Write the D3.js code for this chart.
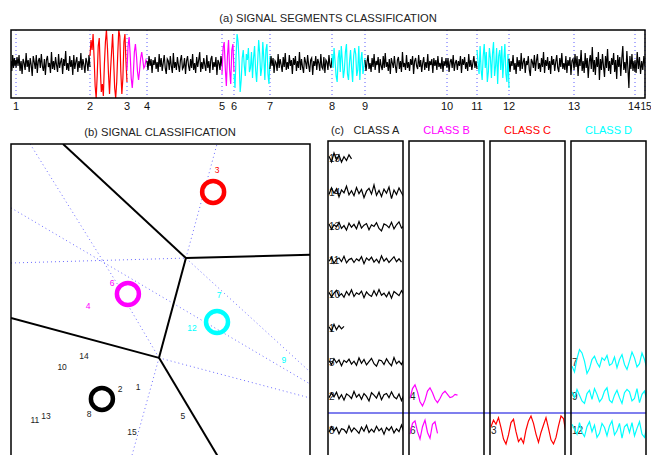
<!DOCTYPE html>
<html>
<head>
<meta charset="utf-8">
<script src="https://cdn.jsdelivr.net/npm/d3@7/dist/d3.min.js"></script>
<style>
  body { margin: 0; background: #fff; }
  svg { display: block; font-family: "Liberation Sans", Arial, Helvetica, sans-serif; }
</style>
</head>
<body>
<script>
// ---- data ----
// segment boundaries (sample index) and their tick labels
const bounds = [0, 5, 79, 116, 136, 211, 223, 259, 321, 354, 436, 466, 498, 563, 624, 634];
const tickLabels = ['1','2','3','4','5','6','7','8','9','10','11','12','13','14','15'];
// class of segment k (segment k ends at tick k)
const segClass = ['A','A','C','B','A','B','D','A','D','A','A','D','A','A','A'];

// signal samples per segment
const s1 = [3,-7,9,-4,6,-2,4];
const s2 = [-4,7,-2,9,-7,3,-10,5,1,-6,11,-3,4,-8,6,-1,-12,8,2,-5,9,-9,3,6,-4,10,-2,-7,5,-11,
  4,8,-3,1,-9,12,-5,3,-6,7,-1,-8,10,-4,2,6,-10,5,-2,13,-6,1,-7,8,-3,4,-11,9,-5,2,7,-8,3,-4,11,-6,5,-1,-9,6,2,-7,9,-3];
const s3 = [8,24,14,30,6,-22,-34,-12,18,26,-4,-28,-20,-32,0,22,34,16,-10,-30,-6,12,30,4,-24,-34,-18,10,34,28,-8,-30,-14,22,30,2,-18];
const s4 = [-6,18,27,10,-14,-24,-10,12,20,8,-8,-16,-6,6,12,4,-4,-2,4,2];
const s5 = [3,-6,8,-2,5,-9,4,-1,7,-5,2,-8,10,-3,6,-7,1,9,-4,-10,5,3,-6,8,-2,-9,11,-4,2,-6,
  7,-1,-8,4,9,-5,-3,6,-10,3,8,-2,-7,5,-4,10,-6,1,-9,7,-3,4,12,-8,2,-5,6,-1,-7,9,-4,3,-9,5,8,-6,2,-3,7,-11,4,1,-6,8,-2];
const s6 = [-10,16,22,-4,-22,8,24,-6,-20,14,20,-8];
const s7 = [-10,-24,8,30,22,2,-28,-16,6,14,-2,-12,10,4,16,-8,-4,12,-14,6,18,-6,-18,2,24,10,-12,-4,22,6,-16,14,20,-10,-20,8];
const s8 = [-5,8,-2,6,-9,3,1,-7,10,-4,5,-1,-8,7,-3,11,-6,2,-5,9,-2,4,-10,6,-1,8,-7,3,-4,12,
  -6,5,-3,-9,7,2,-5,9,-1,-8,4,6,-11,3,-2,8,-6,5,1,-7,10,-3,-5,7,-9,4,2,-6,9,-1,-4,6];
const s9 = [10,-4,16,2,-12,-18,6,14,-8,18,4,-14,-6,12,20,-10,-16,2,14,-4,-18,8,16,10,-12,-6,18,-16,4,12,-10,-2,6];
const s10 = [4,-7,2,9,-5,1,-8,6,-3,10,-6,3,-1,7,-9,5,-2,-6,8,-4,11,-3,2,-7,5,-10,6,1,-4,8,
  -2,-9,4,7,-5,3,-8,12,-3,1,-6,9,-4,2,-7,5,-1,8,-10,3,6,-2,-5,9,-3,4,-8,1,7,-6,
  2,-4,10,-7,3,-1,5,-9,6,-2,4,-6,8,-3,1,-5,7,-8,3,-2,6,-4];
const s11 = [-3,6,-8,2,5,-4,9,-7,1,4,-6,3,-2,8,-9,5,-1,7,-5,2,-7,10,-3,4,-6,1,8,-4,3,-5];
const s12 = [14,2,-10,18,-6,-16,8,20,-4,12,-18,-8,16,6,-14,10,22,-12,-2,16,-20,8,14,-6,18,-14,4,20,-10,-18,10,-24];
const s13 = [5,-8,3,-2,9,-6,1,-10,7,-3,4,-7,11,-5,2,6,-9,3,-1,8,-6,-12,5,2,-4,9,-7,3,10,-5,
  1,-8,6,-3,12,-9,4,-2,7,-6,3,-10,8,-1,5,-7,2,9,-4,-8,6,-3,11,-5,1,-6,8,-9,4,-2,7,-11,3,5,-4];
const s14 = [-6,10,-3,8,-12,5,-2,14,-7,3,-9,11,-4,6,-14,2,9,-5,17,-8,4,-11,7,-3,12,-16,5,-6,10,-2,
  -13,8,-4,15,-7,3,-10,6,-1,11,-8,4,-15,9,-3,7,-12,5,18,-6,2,-9,13,-4,-24,8,-5,10,-7,3,-8];
const s15 = [4,-9,12,-5,7,-10,3,-6,8,-2];
const segValues = [s1,s2,s3,s4,s5,s6,s7,s8,s9,s10,s11,s12,s13,s14,s15];

// feature space positions of each segment (panel b)
const featX = [42.5,36.5,68.9,25.8,57.5,33.8,69.6,26.1,91.3,17.1,8.0,60.5,11.7,24.4,40.5];
const featY = [25.5,24.8,92.0,50.3,16.6,57.4,53.7,17.2,33.7,31.6,15.3,43.6,16.6,35.0,11.7];

// class centres
const classes = ['A','B','C','D'];
const centerX = [30.4,39.1,67.6,68.9];
const centerY = [21.8,54.0,85.3,45.4];
const classColor = {A:'#000000', B:'#ff00ff', C:'#ff0000', D:'#00ffff'};

// decision boundaries and dotted guide lines (feature space)
const voronoiEdges = [
  [[17.4,100],[58.5,65.0]], [[58.5,65.0],[100,66.0]], [[58.5,65.0],[49.5,34.4]],
  [[49.5,34.4],[0,46.6]], [[49.5,34.4],[71.9,0]]
];
const guideLines = [
  [[6.4,100],[35.8,56.7]], [[0,80.4],[100,26.4]], [[49.5,34.4],[100,22.1]],
  [[49.5,34.4],[39.1,0]], [[39.1,50.6],[49.5,34.4]], [[58.5,65.0],[68.9,100]],
  [[0,63.5],[58.5,65.0]], [[58.5,65.0],[100,30.1]]
];

// members of each class, listed from bottom row upward (panel c)
const classA = [8,2,5,1,10,11,13,14,15];
const classB = [6,4];
const classC = [3];
const classD = [12,9,7];
const members = {A: classA, B: classB, C: classC, D: classD};

// ---- drawing ----
const width = 651, height = 455;
const svg = d3.select('body').append('svg').attr('width', width).attr('height', height);
const defs = svg.append('defs');

// (a) signal segments
const xA = d3.scaleLinear().domain([0, 634]).range([11, 645]);
const yA = d3.scaleLinear().domain([-34, 34]).range([98, 30]);

svg.append('text').attr('x', 328).attr('y', 22).attr('text-anchor', 'middle')
  .attr('font-size', 11.2).attr('fill', '#222').text('(a) SIGNAL SEGMENTS CLASSIFICATION');

defs.append('clipPath').attr('id', 'clipTop').append('rect')
  .attr('x', xA(0)).attr('y', yA(34)).attr('width', xA(634) - xA(0)).attr('height', yA(-34) - yA(34));

const gA = svg.append('g');
gA.selectAll('line.tick').data(bounds.slice(1)).join('line')
  .attr('x1', d => xA(d)).attr('x2', d => xA(d))
  .attr('y1', yA(34)).attr('y2', yA(-34))
  .attr('stroke', '#5b5bff').attr('stroke-width', 1).attr('stroke-dasharray', '1,3');

const gSig = gA.append('g').attr('clip-path', 'url(#clipTop)');
segValues.forEach((vals, k) => {
  const sx = d3.scaleLinear().domain([0, vals.length - 1]).range([xA(bounds[k]), xA(bounds[k + 1])]);
  gSig.append('path')
    .attr('d', d3.line().x((d, i) => sx(i)).y(d => yA(d))(vals))
    .attr('fill', 'none').attr('stroke', classColor[segClass[k]]).attr('stroke-width', 1.2);
});

gA.append('rect').attr('x', xA(0)).attr('y', yA(34)).attr('width', xA(634) - xA(0)).attr('height', yA(-34) - yA(34))
  .attr('fill', 'none').attr('stroke', '#000').attr('stroke-width', 1.5);

// the last tick sits on the frame edge; "14" and "15" are squeezed together there
gA.selectAll('text.tl').data(bounds.slice(1)).join('text')
  .attr('x', (d, i) => i === 14 ? xA(bounds[14]) + 5.5 : i === 13 ? xA(d) - 1 : xA(d))
  .attr('y', 110)
  .attr('text-anchor', (d, i) => i === 14 ? 'start' : 'middle')
  .attr('font-size', (d, i) => i === 14 ? 10 : 11)
  .attr('fill', '#111').text((d, i) => tickLabels[i]);

// (b) feature space
const xB = d3.scaleLinear().domain([0, 100]).range([11, 310]);
const yB = d3.scaleLinear().domain([0, 100]).range([470, 144]);

svg.append('text').attr('x', 160).attr('y', 136).attr('text-anchor', 'middle')
  .attr('font-size', 11.2).attr('fill', '#222').text('(b) SIGNAL CLASSIFICATION');

defs.append('clipPath').attr('id', 'clipFeat').append('rect')
  .attr('x', xB(0)).attr('y', yB(100)).attr('width', xB(100) - xB(0)).attr('height', yB(0) - yB(100));

const gB = svg.append('g').attr('clip-path', 'url(#clipFeat)');
gB.selectAll('line.guide').data(guideLines).join('line')
  .attr('x1', d => xB(d[0][0])).attr('y1', d => yB(d[0][1]))
  .attr('x2', d => xB(d[1][0])).attr('y2', d => yB(d[1][1]))
  .attr('stroke', '#6b6bff').attr('stroke-width', 1).attr('stroke-dasharray', '1,3');

gB.selectAll('line.vor').data(voronoiEdges).join('line')
  .attr('x1', d => xB(d[0][0])).attr('y1', d => yB(d[0][1]))
  .attr('x2', d => xB(d[1][0])).attr('y2', d => yB(d[1][1]))
  .attr('stroke', '#000').attr('stroke-width', 2);

gB.selectAll('circle').data(classes).join('circle')
  .attr('cx', (d, i) => xB(centerX[i])).attr('cy', (d, i) => yB(centerY[i]))
  .attr('r', 11).attr('fill', 'none').attr('stroke', d => classColor[d]).attr('stroke-width', 4.5);

gB.selectAll('text.seg').data(tickLabels).join('text')
  .attr('x', (d, i) => xB(featX[i])).attr('y', (d, i) => yB(featY[i]) + 3)
  .attr('text-anchor', 'middle').attr('font-size', 8.5)
  .attr('fill', (d, i) => segClass[i] === 'A' ? '#222' : classColor[segClass[i]])
  .text(d => d);

svg.append('rect').attr('x', xB(0)).attr('y', yB(100)).attr('width', xB(100) - xB(0)).attr('height', yB(0) - yB(100))
  .attr('fill', 'none').attr('stroke', '#000').attr('stroke-width', 1.5);

// (c) class panels
const xC = d3.scaleBand().domain(classes).range([328, 646]).paddingInner(0.074);
const rowY = d3.scaleLinear().domain([0, 8]).range([430, 158]);
const panelTop = 141, panelBottom = 470;

svg.append('text').attr('x', 331).attr('y', 134).attr('font-size', 11).attr('fill', '#222').text('(c)');
svg.selectAll('text.cls').data(classes).join('text')
  .attr('x', d => xC(d) + xC.bandwidth() / 2 + (d === 'A' ? 11 : 0)).attr('y', 134)
  .attr('text-anchor', 'middle').attr('font-size', 11)
  .attr('fill', d => d === 'A' ? '#222' : classColor[d]).text(d => 'CLASS ' + d);

classes.forEach(c => {
  const x0 = xC(c), bw = xC.bandwidth();
  defs.append('clipPath').attr('id', 'clipClass' + c).append('rect')
    .attr('x', x0).attr('y', panelTop).attr('width', bw).attr('height', panelBottom - panelTop);
  const g = svg.append('g').attr('clip-path', 'url(#clipClass' + c + ')');
  const sx = d3.scaleLinear().domain([0, 30]).range([x0 + 1, x0 + 76]);
  members[c].forEach((seg, r) => {
    const cy = rowY(r);
    const sy = d3.scaleLinear().domain([-34, 34]).range([cy + 14, cy - 14]);
    g.append('text').attr('x', x0 + 1).attr('y', cy + 4).attr('font-size', 10).attr('fill', '#222').text(seg);
    g.append('path')
      .attr('d', d3.line().x((d, i) => sx(i)).y(d => sy(d))(segValues[seg - 1]))
      .attr('fill', 'none').attr('stroke', classColor[c]).attr('stroke-width', 1.2);
  });
});

svg.append('line').attr('x1', 328).attr('x2', 646).attr('y1', rowY(0.5)).attr('y2', rowY(0.5))
  .attr('stroke', '#0000dd').attr('stroke-width', 1.2);

svg.selectAll('rect.panel').data(classes).join('rect')
  .attr('x', d => xC(d)).attr('y', panelTop).attr('width', xC.bandwidth()).attr('height', panelBottom - panelTop)
  .attr('fill', 'none').attr('stroke', '#000').attr('stroke-width', 1.5);
</script>
</body>
</html>
